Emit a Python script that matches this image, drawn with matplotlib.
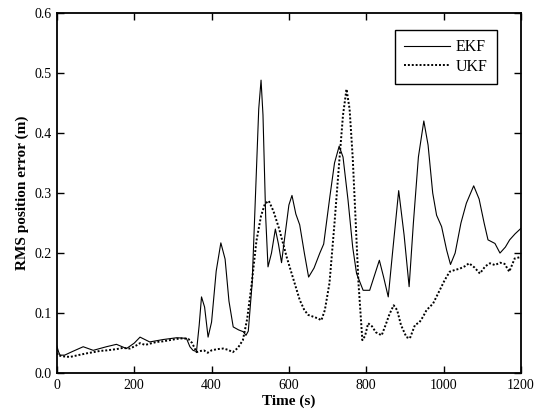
import matplotlib
matplotlib.use("Agg")
import matplotlib.pyplot as plt

# EKF RMS position error
ekf_t = [0, 4, 8, 20, 40, 68, 94, 128, 154, 180, 200, 215, 240, 275, 310, 335, 344, 352,
         361, 368, 374, 382, 391, 400, 412, 424, 435, 445, 456, 470, 482, 489, 495,
         505, 515, 522, 528, 533, 540, 546, 555, 565, 573, 581, 590, 600, 608, 618,
         628, 640, 651, 665, 680, 690, 706, 718, 730, 740, 753, 765, 775, 792, 809,
         820, 834, 845, 857, 868, 884, 898, 911, 922, 935, 949, 960, 972, 982, 995,
         1008, 1018, 1030, 1045, 1059, 1078, 1092, 1105, 1115, 1133, 1146, 1160,
         1171, 1185, 1200]
ekf_v = [0.045, 0.036, 0.030, 0.030, 0.036, 0.044, 0.038, 0.044, 0.048, 0.041, 0.050,
         0.060, 0.052, 0.056, 0.059, 0.058, 0.044, 0.038,
         0.036, 0.080, 0.127, 0.110, 0.060, 0.085, 0.170, 0.217, 0.190, 0.120,
         0.077, 0.072, 0.069, 0.063, 0.070,
         0.150, 0.320, 0.440, 0.488, 0.430, 0.260, 0.177, 0.200, 0.240, 0.215,
         0.184, 0.230, 0.280, 0.296, 0.265,
         0.247, 0.200, 0.160, 0.175, 0.200, 0.215, 0.294, 0.350, 0.378, 0.360,
         0.288, 0.210, 0.166, 0.138, 0.138,
         0.160, 0.188, 0.160, 0.127, 0.200, 0.304, 0.230, 0.144, 0.250, 0.360,
         0.420, 0.380, 0.300, 0.263, 0.244,
         0.205, 0.181, 0.200, 0.250, 0.283, 0.312, 0.290, 0.250, 0.222, 0.216,
         0.200, 0.210, 0.222, 0.232, 0.241]

# UKF RMS position error
ukf_t = [0, 2, 15, 34, 55, 77, 95, 111, 130, 154, 170, 189, 205, 215, 228, 240, 258,
         275, 292, 310, 325, 340, 350, 361, 372, 380, 390, 400, 415, 430, 442, 455,
         468, 481, 492, 504, 516, 528, 538, 548, 560, 575, 594, 610, 628, 640, 650,
         663, 676, 684, 693, 705, 718, 730, 740, 749, 757, 765, 771, 780, 790, 797,
         805, 815, 825, 840, 850, 860, 871, 880, 890, 904, 913, 926, 938, 947, 956,
         973, 990, 1003, 1016, 1030, 1042, 1055, 1066, 1080, 1094, 1108, 1120, 1133,
         1146, 1158, 1170, 1184, 1197, 1200]
ukf_v = [0.040, 0.030, 0.028, 0.027, 0.030, 0.033, 0.035, 0.037, 0.038, 0.040, 0.042,
         0.041, 0.046, 0.050, 0.047, 0.049, 0.052,
         0.053, 0.055, 0.057, 0.058, 0.057, 0.050, 0.035, 0.037, 0.038, 0.034,
         0.038, 0.040, 0.041, 0.039, 0.035,
         0.042, 0.055, 0.090, 0.150, 0.220, 0.262, 0.282, 0.287, 0.270, 0.240,
         0.194, 0.160, 0.122, 0.105, 0.097,
         0.094, 0.091, 0.088, 0.105, 0.150, 0.250, 0.350, 0.430, 0.473, 0.440,
         0.360, 0.277, 0.150, 0.055, 0.062,
         0.083, 0.078, 0.068, 0.063, 0.080, 0.098, 0.113, 0.105, 0.080, 0.060,
         0.058, 0.080, 0.085, 0.094, 0.105,
         0.116, 0.138, 0.155, 0.169, 0.172, 0.174, 0.178, 0.183, 0.176, 0.166,
         0.178, 0.183, 0.180, 0.184, 0.182, 0.169, 0.191, 0.193, 0.195]

x_ticks = [0, 200, 400, 600, 800, 1000, 1200]
y_ticks = [0.0, 0.1, 0.2, 0.3, 0.4, 0.5, 0.6]

plt.rcParams['font.family'] = ['Liberation Serif', 'DejaVu Serif']

fig = plt.figure(figsize=(5.42, 4.16), dpi=100)
ax = fig.add_axes([0.105, 0.103, 0.856, 0.866])

ax.plot(ekf_t, ekf_v, color='black', linewidth=0.8, label='EKF')
ax.plot(ukf_t, ukf_v, color='black', linewidth=1.4, linestyle=(0, (1, 1)), label='UKF')

ax.set_xlim(0, 1200)
ax.set_ylim(0, 0.6)
ax.set_xticks(x_ticks)
ax.set_yticks(y_ticks)
ax.set_xticklabels([str(t) for t in x_ticks])
ax.set_yticklabels([f"{v:.1f}" for v in y_ticks])
ax.tick_params(direction='in', top=True, right=True, length=5, width=1,
               labelsize=10, pad=4)
for s in ax.spines.values():
    s.set_linewidth(1.3)

ax.set_xlabel('Time (s)', fontsize=11, fontweight='bold', labelpad=2)
ax.set_ylabel('RMS position error (m)', fontsize=11, fontweight='bold', labelpad=4)

leg = ax.legend(loc='upper right', bbox_to_anchor=(0.948, 0.953), borderaxespad=0,
                fontsize=11.5, frameon=True, fancybox=False, framealpha=1,
                edgecolor='black', handlelength=2.9, handletextpad=0.3,
                borderpad=0.6, labelspacing=0.2)
leg.get_frame().set_linewidth(1.0)

fig.savefig('out.png', dpi=100)
